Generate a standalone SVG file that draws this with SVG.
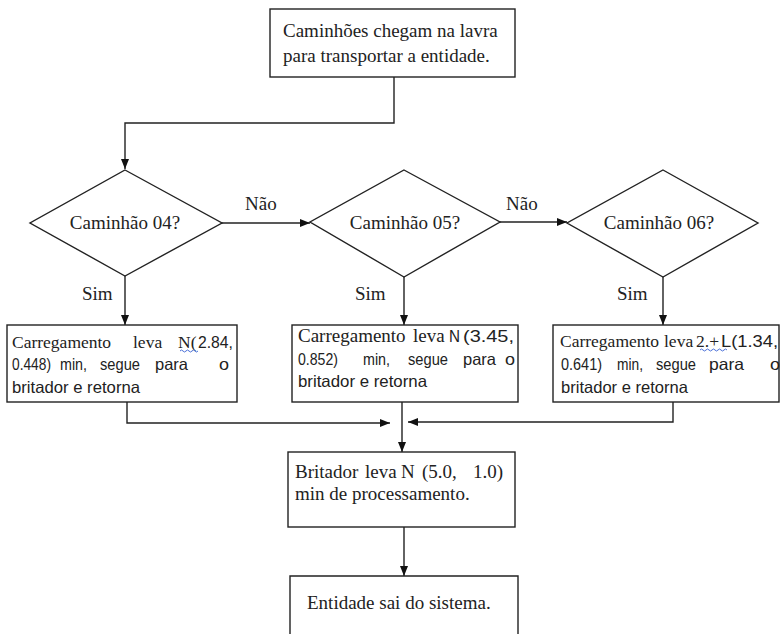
<svg xmlns="http://www.w3.org/2000/svg" width="780" height="634" viewBox="0 0 780 634">
<style>
.box{fill:#fff;stroke:#222;stroke-width:1.4}
.ln{fill:none;stroke:#222;stroke-width:1.4}
.ser{font-family:"Liberation Serif","Times New Roman",serif;fill:#222}
.san{font-family:"Liberation Sans",Arial,sans-serif;fill:#222;font-size:16.5px}
.sq{fill:none;stroke:#4a6fd8;stroke-width:1}
</style>
<defs>
<marker id="ah" markerWidth="10" markerHeight="8" refX="10" refY="4" orient="auto" markerUnits="userSpaceOnUse">
<path d="M0,0 L10,4 L0,8 z" fill="#111"/>
</marker>
</defs>
<rect width="780" height="634" fill="#fff"/>

<g id="connectors">
<path class="ln" d="M394,77 V123 H125 V169" marker-end="url(#ah)"/>
<path class="ln" d="M222,223 H310" marker-end="url(#ah)"/>
<path class="ln" d="M500,222 H567" marker-end="url(#ah)"/>
<path class="ln" d="M125,276 V325" marker-end="url(#ah)"/>
<path class="ln" d="M404,277 V325" marker-end="url(#ah)"/>
<path class="ln" d="M663,277 V325" marker-end="url(#ah)"/>
<path class="ln" d="M127,402 V423 H390" marker-end="url(#ah)"/>
<path class="ln" d="M673,402 V422 H408" marker-end="url(#ah)"/>
<path class="ln" d="M402,402 V452" marker-end="url(#ah)"/>
<path class="ln" d="M404,527 V576" marker-end="url(#ah)"/>
<text class="ser" font-size="19" x="245" y="210">Não</text>
<text class="ser" font-size="19" x="506" y="210">Não</text>
<text class="ser" font-size="19" x="82" y="300">Sim</text>
<text class="ser" font-size="19" x="355" y="300">Sim</text>
<text class="ser" font-size="19" x="617" y="300">Sim</text>
</g>

<g id="start">
<rect class="box" x="270" y="9" width="245" height="68"/>
<text class="ser" font-size="19" x="283" y="37">Caminhões chegam na lavra</text>
<text class="ser" font-size="19" x="283" y="62">para transportar a entidade.</text>
</g>

<g id="d1">
<polygon class="box" points="125,170 222,223 125,276 30,223"/>
<text class="ser" font-size="19" x="125" y="229" text-anchor="middle">Caminhão 04?</text>
</g>
<g id="d2">
<polygon class="box" points="404,170 500,222 404,277 310,222"/>
<text class="ser" font-size="19" x="405" y="229" text-anchor="middle">Caminhão 05?</text>
</g>
<g id="d3">
<polygon class="box" points="663,170 758,223 663,277 567,223"/>
<text class="ser" font-size="19" x="659" y="229" text-anchor="middle">Caminhão 06?</text>
</g>

<g id="box1">
<rect class="box" x="7" y="325" width="230" height="77"/>
<text class="ser" font-size="17.5" x="12" y="348">Carregamento</text>
<text class="ser" font-size="17.5" x="133" y="348">leva</text>
<text class="ser" font-size="17.5" x="178" y="348">N(</text>
<text class="san" x="198" y="348" textLength="35" lengthAdjust="spacingAndGlyphs">2.84,</text>
<path class="sq" d="M180,351 q1.5,-2 3,0 t3,0 t3,0 t3,0 t3,0 t3,0"/>
<text class="san" x="12" y="370" textLength="39" lengthAdjust="spacingAndGlyphs">0.448)</text>
<text class="san" x="60" y="370" textLength="27" lengthAdjust="spacingAndGlyphs">min,</text>
<text class="san" x="100" y="370" textLength="40" lengthAdjust="spacingAndGlyphs">segue</text>
<text class="san" x="155" y="370" textLength="33" lengthAdjust="spacingAndGlyphs">para</text>
<text class="san" x="219" y="370" textLength="10" lengthAdjust="spacingAndGlyphs">o</text>
<text class="san" x="12" y="393" textLength="128" lengthAdjust="spacingAndGlyphs">britador e retorna</text>
</g>

<g id="box2">
<rect class="box" x="292" y="325" width="226" height="77"/>
<text class="ser" font-size="19" x="298" y="342">Carregamento</text>
<text class="ser" font-size="19" x="413" y="342">leva</text>
<text class="san" x="449" y="342" textLength="11" lengthAdjust="spacingAndGlyphs">N</text>
<text class="san" x="463" y="342" textLength="51" lengthAdjust="spacingAndGlyphs">(3.45,</text>
<text class="san" x="298" y="365" textLength="40" lengthAdjust="spacingAndGlyphs">0.852)</text>
<text class="san" x="363" y="365" textLength="27" lengthAdjust="spacingAndGlyphs">min,</text>
<text class="san" x="408" y="365" textLength="40" lengthAdjust="spacingAndGlyphs">segue</text>
<text class="san" x="463" y="365" textLength="33" lengthAdjust="spacingAndGlyphs">para</text>
<text class="san" x="505" y="365" textLength="10" lengthAdjust="spacingAndGlyphs">o</text>
<text class="san" x="298" y="387" textLength="129" lengthAdjust="spacingAndGlyphs">britador e retorna</text>
</g>

<g id="box3">
<rect class="box" x="553" y="325" width="226" height="77"/>
<text class="ser" font-size="17.5" x="560" y="347">Carregamento</text>
<text class="ser" font-size="17.5" x="664" y="347">leva</text>
<text class="ser" font-size="17.5" x="696" y="347">2.+</text>
<text class="san" x="721" y="347" textLength="57" lengthAdjust="spacingAndGlyphs">L(1.34,</text>
<path class="sq" d="M700,350 q1.5,-2 3,0 t3,0 t3,0 t3,0 t3,0 t3,0 t3,0 t3,0 t3,0"/>
<text class="san" x="561" y="370" textLength="41" lengthAdjust="spacingAndGlyphs">0.641)</text>
<text class="san" x="617" y="370" textLength="26" lengthAdjust="spacingAndGlyphs">min,</text>
<text class="san" x="656" y="370" textLength="40" lengthAdjust="spacingAndGlyphs">segue</text>
<text class="san" x="709" y="370" textLength="35" lengthAdjust="spacingAndGlyphs">para</text>
<text class="san" x="770" y="370" textLength="10" lengthAdjust="spacingAndGlyphs">o</text>
<text class="san" x="561" y="393" textLength="127" lengthAdjust="spacingAndGlyphs">britador e retorna</text>
</g>

<g id="britador">
<rect class="box" x="288" y="452" width="227" height="75"/>
<text class="ser" font-size="19" x="295" y="478">Britador</text>
<text class="ser" font-size="19" x="365" y="478">leva</text>
<text class="ser" font-size="19" x="401" y="478">N</text>
<text class="ser" font-size="19" x="422" y="478">(5.0,</text>
<text class="ser" font-size="19" x="473" y="478">1.0)</text>
<text class="ser" font-size="19" x="295" y="500">min de processamento.</text>
</g>

<g id="fim">
<path class="box" d="M290,640 V576 H518 V640"/>
<text class="ser" font-size="19" x="307" y="609">Entidade sai do sistema.</text>
</g>
</svg>
